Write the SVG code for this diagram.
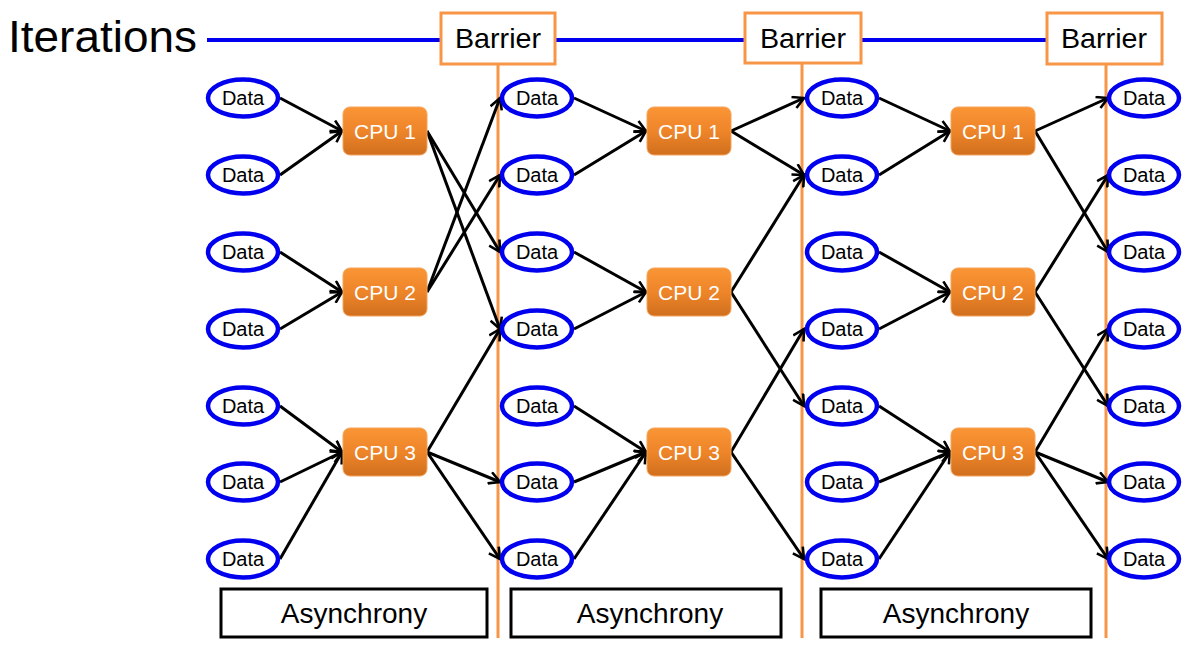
<svg xmlns="http://www.w3.org/2000/svg" width="1197" height="646" viewBox="0 0 1197 646">
<defs>
<linearGradient id="cpuGrad" x1="0" y1="0" x2="0" y2="1">
<stop offset="0" stop-color="#FA9535"/>
<stop offset="0.5" stop-color="#EE8529"/>
<stop offset="1" stop-color="#D06F1E"/>
</linearGradient>
<marker id="arr" viewBox="0 0 14 14" refX="12" refY="7" markerWidth="14" markerHeight="14" markerUnits="userSpaceOnUse" orient="auto">
<path d="M1,1 L12,7 L1,13" fill="none" stroke="#000" stroke-width="2.6" stroke-linejoin="miter"/>
</marker>
<style>
.data ellipse{fill:#fff;stroke:#0000EE;stroke-width:4.5}
.data text{font-family:"Liberation Sans",Arial,sans-serif;font-size:20px;fill:#000;text-anchor:middle}
.cpu rect{fill:url(#cpuGrad);stroke:#F5A35A;stroke-width:1}
.cpu text{font-family:"Liberation Sans",Arial,sans-serif;font-size:21px;fill:#fff;text-anchor:middle}
.barrier rect{fill:#fff;stroke:#F79646;stroke-width:3}
.barrier text{font-family:"Liberation Sans",Arial,sans-serif;font-size:28px;fill:#000;text-anchor:middle}
.bline{stroke:#F79646;stroke-width:3}
.async rect{fill:#fff;stroke:#000;stroke-width:3}
.async text{font-family:"Liberation Sans",Arial,sans-serif;font-size:28px;fill:#000;text-anchor:middle}
#connectors line{stroke:#000;stroke-width:3;marker-end:url(#arr)}
</style>
</defs>
<rect width="1197" height="646" fill="#fff"/>

<g id="title">
<text x="8" y="52" font-family="'Liberation Sans',Arial,sans-serif" font-size="44" textLength="189" lengthAdjust="spacingAndGlyphs">Iterations</text>
<line x1="207" y1="40" x2="1050" y2="40" stroke="#0000EE" stroke-width="4"/>
</g>

<g id="barrier-lines">
<line class="bline" x1="498" y1="64" x2="498" y2="638"/>
<line class="bline" x1="802" y1="64" x2="802" y2="638"/>
<line class="bline" x1="1106" y1="64" x2="1106" y2="638"/>
</g>

<g id="barrier1" class="barrier"><rect x="441" y="13" width="114" height="51"/><text x="498" y="48" textLength="86" lengthAdjust="spacingAndGlyphs">Barrier</text></g>
<g id="barrier2" class="barrier"><rect x="745" y="13" width="116" height="50"/><text x="803" y="48" textLength="86" lengthAdjust="spacingAndGlyphs">Barrier</text></g>
<g id="barrier3" class="barrier"><rect x="1047" y="13" width="115" height="51"/><text x="1104" y="48" textLength="86" lengthAdjust="spacingAndGlyphs">Barrier</text></g>

<g id="connectors">
<line x1="280" y1="98" x2="342" y2="131"/>
<line x1="280" y1="175" x2="342" y2="131"/>
<line x1="280" y1="252" x2="342" y2="292"/>
<line x1="280" y1="329" x2="342" y2="292"/>
<line x1="280" y1="406" x2="342" y2="452"/>
<line x1="280" y1="482" x2="342" y2="452"/>
<line x1="280" y1="559" x2="342" y2="452"/>
<line x1="427" y1="131" x2="500" y2="252"/>
<line x1="427" y1="131" x2="500" y2="329"/>
<line x1="427" y1="292" x2="500" y2="98"/>
<line x1="427" y1="292" x2="500" y2="175"/>
<line x1="427" y1="452" x2="500" y2="329"/>
<line x1="427" y1="452" x2="500" y2="482"/>
<line x1="427" y1="452" x2="500" y2="559"/>
<line x1="574" y1="98" x2="646" y2="131"/>
<line x1="574" y1="175" x2="646" y2="131"/>
<line x1="574" y1="252" x2="646" y2="292"/>
<line x1="574" y1="329" x2="646" y2="292"/>
<line x1="574" y1="406" x2="646" y2="452"/>
<line x1="574" y1="482" x2="646" y2="452"/>
<line x1="574" y1="559" x2="646" y2="452"/>
<line x1="731" y1="131" x2="804" y2="98"/>
<line x1="731" y1="131" x2="804" y2="175"/>
<line x1="731" y1="292" x2="804" y2="175"/>
<line x1="731" y1="292" x2="804" y2="406"/>
<line x1="731" y1="452" x2="804" y2="329"/>
<line x1="731" y1="452" x2="804" y2="559"/>
<line x1="879" y1="98" x2="950" y2="131"/>
<line x1="879" y1="175" x2="950" y2="131"/>
<line x1="879" y1="252" x2="950" y2="292"/>
<line x1="879" y1="329" x2="950" y2="292"/>
<line x1="879" y1="406" x2="950" y2="452"/>
<line x1="879" y1="482" x2="950" y2="452"/>
<line x1="879" y1="559" x2="950" y2="452"/>
<line x1="1035" y1="131" x2="1108" y2="98"/>
<line x1="1035" y1="131" x2="1108" y2="252"/>
<line x1="1035" y1="292" x2="1108" y2="175"/>
<line x1="1035" y1="292" x2="1108" y2="406"/>
<line x1="1035" y1="452" x2="1108" y2="329"/>
<line x1="1035" y1="452" x2="1108" y2="482"/>
<line x1="1035" y1="452" x2="1108" y2="559"/>
</g>

<g id="d1_1" class="data"><ellipse cx="243" cy="98" rx="35" ry="18.5"/><text x="243" y="105">Data</text></g>
<g id="d1_2" class="data"><ellipse cx="243" cy="175" rx="35" ry="18.5"/><text x="243" y="182">Data</text></g>
<g id="d1_3" class="data"><ellipse cx="243" cy="252" rx="35" ry="18.5"/><text x="243" y="259">Data</text></g>
<g id="d1_4" class="data"><ellipse cx="243" cy="329" rx="35" ry="18.5"/><text x="243" y="336">Data</text></g>
<g id="d1_5" class="data"><ellipse cx="243" cy="406" rx="35" ry="18.5"/><text x="243" y="413">Data</text></g>
<g id="d1_6" class="data"><ellipse cx="243" cy="482" rx="35" ry="18.5"/><text x="243" y="489">Data</text></g>
<g id="d1_7" class="data"><ellipse cx="243" cy="559" rx="35" ry="18.5"/><text x="243" y="566">Data</text></g>
<g id="d2_1" class="data"><ellipse cx="537" cy="98" rx="35" ry="18.5"/><text x="537" y="105">Data</text></g>
<g id="d2_2" class="data"><ellipse cx="537" cy="175" rx="35" ry="18.5"/><text x="537" y="182">Data</text></g>
<g id="d2_3" class="data"><ellipse cx="537" cy="252" rx="35" ry="18.5"/><text x="537" y="259">Data</text></g>
<g id="d2_4" class="data"><ellipse cx="537" cy="329" rx="35" ry="18.5"/><text x="537" y="336">Data</text></g>
<g id="d2_5" class="data"><ellipse cx="537" cy="406" rx="35" ry="18.5"/><text x="537" y="413">Data</text></g>
<g id="d2_6" class="data"><ellipse cx="537" cy="482" rx="35" ry="18.5"/><text x="537" y="489">Data</text></g>
<g id="d2_7" class="data"><ellipse cx="537" cy="559" rx="35" ry="18.5"/><text x="537" y="566">Data</text></g>
<g id="d3_1" class="data"><ellipse cx="842" cy="98" rx="35" ry="18.5"/><text x="842" y="105">Data</text></g>
<g id="d3_2" class="data"><ellipse cx="842" cy="175" rx="35" ry="18.5"/><text x="842" y="182">Data</text></g>
<g id="d3_3" class="data"><ellipse cx="842" cy="252" rx="35" ry="18.5"/><text x="842" y="259">Data</text></g>
<g id="d3_4" class="data"><ellipse cx="842" cy="329" rx="35" ry="18.5"/><text x="842" y="336">Data</text></g>
<g id="d3_5" class="data"><ellipse cx="842" cy="406" rx="35" ry="18.5"/><text x="842" y="413">Data</text></g>
<g id="d3_6" class="data"><ellipse cx="842" cy="482" rx="35" ry="18.5"/><text x="842" y="489">Data</text></g>
<g id="d3_7" class="data"><ellipse cx="842" cy="559" rx="35" ry="18.5"/><text x="842" y="566">Data</text></g>
<g id="d4_1" class="data"><ellipse cx="1144" cy="98" rx="35" ry="18.5"/><text x="1144" y="105">Data</text></g>
<g id="d4_2" class="data"><ellipse cx="1144" cy="175" rx="35" ry="18.5"/><text x="1144" y="182">Data</text></g>
<g id="d4_3" class="data"><ellipse cx="1144" cy="252" rx="35" ry="18.5"/><text x="1144" y="259">Data</text></g>
<g id="d4_4" class="data"><ellipse cx="1144" cy="329" rx="35" ry="18.5"/><text x="1144" y="336">Data</text></g>
<g id="d4_5" class="data"><ellipse cx="1144" cy="406" rx="35" ry="18.5"/><text x="1144" y="413">Data</text></g>
<g id="d4_6" class="data"><ellipse cx="1144" cy="482" rx="35" ry="18.5"/><text x="1144" y="489">Data</text></g>
<g id="d4_7" class="data"><ellipse cx="1144" cy="559" rx="35" ry="18.5"/><text x="1144" y="566">Data</text></g>

<g id="cpu1_1" class="cpu"><rect x="343" y="107" width="84" height="48" rx="7"/><text x="385" y="139">CPU 1</text></g>
<g id="cpu1_2" class="cpu"><rect x="343" y="268" width="84" height="48" rx="7"/><text x="385" y="300">CPU 2</text></g>
<g id="cpu1_3" class="cpu"><rect x="343" y="428" width="84" height="48" rx="7"/><text x="385" y="460">CPU 3</text></g>
<g id="cpu2_1" class="cpu"><rect x="647" y="107" width="84" height="48" rx="7"/><text x="689" y="139">CPU 1</text></g>
<g id="cpu2_2" class="cpu"><rect x="647" y="268" width="84" height="48" rx="7"/><text x="689" y="300">CPU 2</text></g>
<g id="cpu2_3" class="cpu"><rect x="647" y="428" width="84" height="48" rx="7"/><text x="689" y="460">CPU 3</text></g>
<g id="cpu3_1" class="cpu"><rect x="951" y="107" width="84" height="48" rx="7"/><text x="993" y="139">CPU 1</text></g>
<g id="cpu3_2" class="cpu"><rect x="951" y="268" width="84" height="48" rx="7"/><text x="993" y="300">CPU 2</text></g>
<g id="cpu3_3" class="cpu"><rect x="951" y="428" width="84" height="48" rx="7"/><text x="993" y="460">CPU 3</text></g>

<g id="async1" class="async"><rect x="221" y="589" width="266" height="48"/><text x="354" y="623">Asynchrony</text></g>
<g id="async2" class="async"><rect x="511" y="589" width="270" height="48"/><text x="650" y="623">Asynchrony</text></g>
<g id="async3" class="async"><rect x="821" y="589" width="270" height="48"/><text x="956" y="623">Asynchrony</text></g>
</svg>
